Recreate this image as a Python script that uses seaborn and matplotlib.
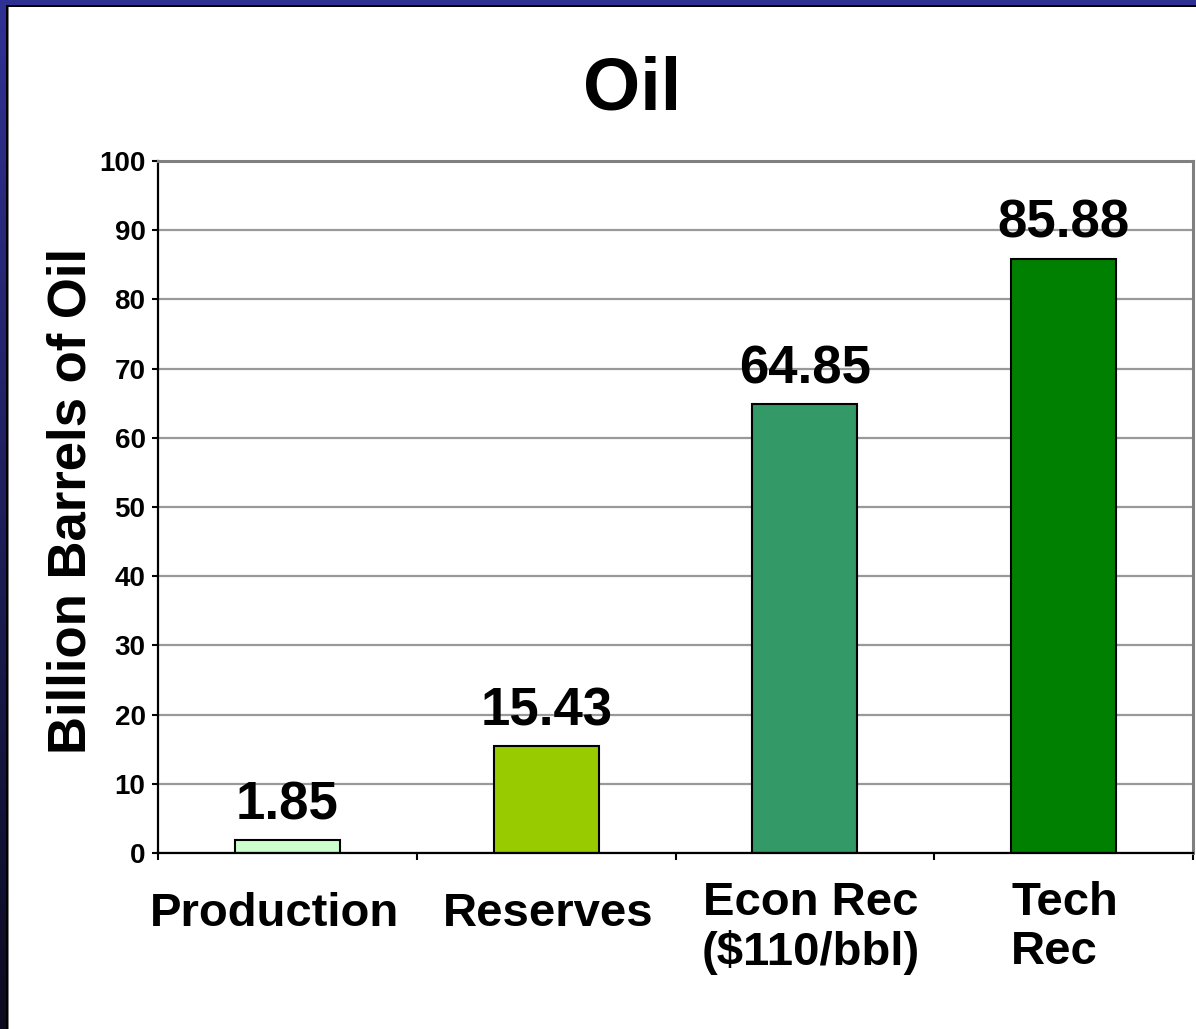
import numpy as np
import pandas as pd
import matplotlib
matplotlib.use("Agg")
import matplotlib.pyplot as plt
import seaborn as sns
from matplotlib.patches import Rectangle
from matplotlib.transforms import ScaledTranslation

categories = ["Production", "Reserves", "Econ Rec\n($110/bbl)", "Tech\nRec"]
values = [1.85, 15.43, 64.85, 85.88]
value_labels = ["1.85", "15.43", "64.85", "85.88"]
bar_colors = ["#ccffcc", "#99cc00", "#339966", "#008000"]
y_ticks = list(range(0, 101, 10))
title = "Oil"
y_label = "Billion Barrels of Oil"

sns.set_theme(style="white")
plt.rcParams["font.family"] = ["Liberation Sans", "DejaVu Sans"]
plt.rcParams["font.weight"] = "bold"

W, H = 1196, 1029
fig = plt.figure(figsize=(W / 100, H / 100), dpi=100)
fig.patch.set_facecolor("white")
ax = fig.add_axes([158 / W, 1 - 853 / H, (1193 - 158) / W, (853 - 161) / H])

df = pd.DataFrame({"cat": categories, "val": values})
sns.barplot(data=df, x="cat", y="val", hue="cat", palette=bar_colors,
            legend=False, width=0.405, edgecolor="black", linewidth=1.5,
            saturation=1, ax=ax)

ax.set_xlim(-0.5, len(categories) - 0.5)
ax.set_ylim(0, 100)
ax.set_yticks(y_ticks)
ax.set_yticklabels([str(t) for t in y_ticks], fontsize=20, fontweight="bold")
ax.yaxis.grid(True, color="#999999", linewidth=1.6)
ax.set_axisbelow(True)

ax.set_xticks(range(len(categories)))
ax.set_xticklabels(categories, fontsize=34, fontweight="bold",
                   va="top", linespacing=1.14)
ax.set_xticks(np.arange(-0.5, len(categories), 1.0), minor=True)
ax.tick_params(axis="x", which="major", length=0, pad=20, colors="black")
ax.tick_params(axis="x", which="minor", length=5, width=1.5, direction="out",
               bottom=True, color="black")
ax.tick_params(axis="y", which="major", length=4, width=1.5, direction="out",
               left=True, pad=5, colors="black")

# per-label nudges in pixels (dx, dy) to follow the original slide layout
nudges = {"Production": (-13, -11), "Reserves": (2, -11),
          "Econ Rec\n($110/bbl)": (6, 0), "Tech\nRec": (1, 0)}
for lab in ax.get_xticklabels():
    txt = lab.get_text()
    if txt.startswith("Tech"):
        lab.set_multialignment("left")
    else:
        lab.set_multialignment("center")
    dx, dy = nudges.get(txt, (0, 0))
    lab.set_transform(lab.get_transform() +
                      ScaledTranslation(dx / 100, dy / 100, fig.dpi_scale_trans))

ax.set_xlabel("")
ax.set_ylabel(y_label, fontsize=38, fontweight="bold", labelpad=2, color="black")
ax.yaxis.label.set_y(0.5 + 6 / 692)

for s in ["left", "bottom"]:
    ax.spines[s].set_color("black")
    ax.spines[s].set_linewidth(1.6)
for s in ["top", "right"]:
    ax.spines[s].set_color("#808080")
    ax.spines[s].set_linewidth(2.2)
    ax.spines[s].set_visible(True)

for i, (v, t) in enumerate(zip(values, value_labels)):
    ax.annotate(t, xy=(i, v), xytext=(0, 7), textcoords="offset points",
                ha="center", va="bottom", fontsize=38, fontweight="bold",
                color="black")

fig.text(632 / W, 1 - 110 / H, title, ha="center", va="baseline",
         fontsize=53, fontweight="bold", color="black")

# slide frame: gradient strip on the left, blue band on top, black inner edge
top_c = np.array([48, 49, 148]) / 255
bot_c = np.array([11, 11, 32]) / 255
tt = np.linspace(0, 1, H)[:, None]
col = (1 - tt) * top_c + tt * bot_c
strip = np.repeat(col[:, None, :], 7, axis=1)
fig.figimage(strip, xo=0, yo=0, origin="upper", zorder=5)
fig.patches.append(Rectangle((0, 1 - 5 / H), 1, 5 / H, transform=fig.transFigure,
                             facecolor="#2e3192", edgecolor="none", zorder=6))
fig.patches.append(Rectangle((6 / W, 1 - 7 / H), 1, 2 / H, transform=fig.transFigure,
                             facecolor="black", edgecolor="none", zorder=7))
fig.patches.append(Rectangle((6 / W, 0), 2 / W, 1 - 5 / H, transform=fig.transFigure,
                             facecolor="black", edgecolor="none", zorder=7))
fig.patches.append(Rectangle((8 / W, 0), 1 / W, 1 - 7 / H, transform=fig.transFigure,
                             facecolor="#808080", edgecolor="none", zorder=7))

fig.savefig("out.png", dpi=100)
